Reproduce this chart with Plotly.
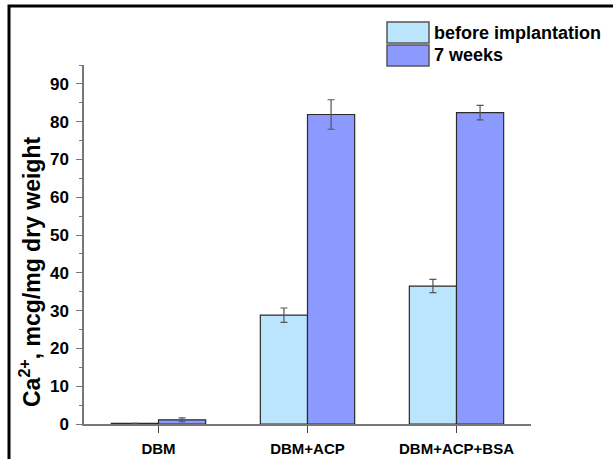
import plotly.graph_objects as go

categories = ["DBM", "DBM+ACP", "DBM+ACP+BSA"]
series_names = ["before implantation", "7 weeks"]
before_vals = [0.2, 28.8, 36.5]
before_err = [0.0, 1.9, 1.75]
after_vals = [1.1, 81.9, 82.4]
after_err = [0.5, 3.9, 1.9]
y_ticks = [0, 10, 20, 30, 40, 50, 60, 70, 80, 90]
y_title = "<b>Ca<sup>2+</sup>, mcg/mg dry weight</b>"

colors = ["#BBE5FC", "#8C99FF"]
edge = "#2a2a2a"
FONT = "Liberation Sans, Arial, sans-serif"

W, H = 613, 459
L, R, T, B = 84, 82, 65, 35
pw, ph = W - L - R, H - T - B

def px_x(x):
    return (x - L) / pw

def px_y(y):
    return (H - B - y) / ph

fig = go.Figure()
for name, vals, errs, col in [
    (series_names[0], before_vals, before_err, colors[0]),
    (series_names[1], after_vals, after_err, colors[1]),
]:
    fig.add_trace(go.Bar(
        x=categories, y=vals, name=name,
        marker=dict(color=col, line=dict(color=edge, width=1.2)),
        error_y=dict(type="data", array=errs, visible=True, color="#555555",
                     thickness=1.2, width=3.5),
        showlegend=False,
    ))

shapes = []
annotations = []
# outer frame
shapes.append(dict(type="rect", xref="paper", yref="paper",
                   x0=px_x(9), x1=px_x(660), y0=px_y(500), y1=px_y(6),
                   line=dict(color="black", width=3), fillcolor="rgba(0,0,0,0)", layer="below"))
# custom legend
leg_rows = [(22, 43), (45, 66)]
for (y0, y1), name, col in zip(leg_rows, series_names, colors):
    shapes.append(dict(type="rect", xref="paper", yref="paper",
                       x0=px_x(387), x1=px_x(429), y0=px_y(y1), y1=px_y(y0),
                       line=dict(color="#555555", width=1.5), fillcolor=col))
    annotations.append(dict(xref="paper", yref="paper", x=px_x(432), y=px_y((y0 + y1) / 2),
                            xanchor="left", yanchor="middle", showarrow=False,
                            text="<b>%s</b>" % name,
                            font=dict(family=FONT, size=18, color="black")))
# y-axis title
annotations.append(dict(xref="paper", yref="paper", x=px_x(30), y=px_y(272),
                        xanchor="center", yanchor="middle", showarrow=False,
                        textangle=-90, text=y_title,
                        font=dict(family=FONT, size=23, color="black")))

fig.update_layout(
    width=W, height=H,
    margin=dict(l=L, r=R, t=T, b=B, pad=0),
    paper_bgcolor="white", plot_bgcolor="white",
    barmode="group", bargap=0.367, bargroupgap=0,
    font=dict(family=FONT, color="black"),
    shapes=shapes, annotations=annotations,
    showlegend=False,
)
fig.update_xaxes(
    range=[-0.5, 2.5], showline=True, linecolor="#777777", linewidth=1.5,
    ticks="outside", ticklen=7, tickcolor="#444444", tickwidth=1.2,
    showgrid=False, zeroline=False, automargin=False,
    tickfont=dict(family=FONT, size=15, color="black"),
    ticklabelstandoff=3,
    tickvals=categories, ticktext=["<b>%s</b>" % c for c in categories],
)
fig.update_yaxes(
    range=[0, 95], showline=True, linecolor="#777777", linewidth=1.5,
    ticks="outside", ticklen=6, tickcolor="#777777", tickwidth=1.2,
    tickvals=y_ticks, ticktext=["<b>%d</b>" % v for v in y_ticks],
    minor=dict(tickvals=[v + 5 for v in y_ticks], ticks="outside", ticklen=3,
               tickcolor="#777777", tickwidth=1),
    showgrid=False, zeroline=False, automargin=False,
    tickfont=dict(family=FONT, size=17, color="black"),
    ticklabelstandoff=4,
)

fig.write_html("out.html", config={"displayModeBar": False},
               post_script="document.body.style.margin='0';document.body.style.overflow='hidden';")
